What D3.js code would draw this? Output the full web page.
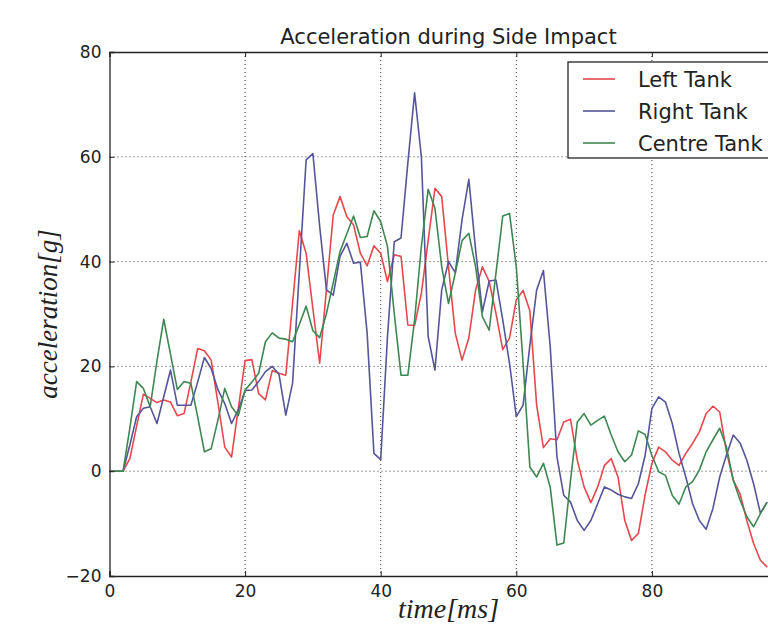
<!DOCTYPE html>
<html>
<head>
<meta charset="utf-8">
<script src="https://cdn.jsdelivr.net/npm/d3@7"></script>
<style>
  html, body { margin: 0; padding: 0; background: #fff; overflow: hidden; }
  svg { display: block; }
</style>
</head>
<body>
<div id="chart"></div>
<script>
// 측정 시간 (ms), 1 ms 간격
const timeMs = d3.range(0, 98);

// 각 탱크의 가속도 값 [g]
const leftTank = [
  0, 0, 0, 2.4, 8.6, 14.7, 13.9, 13.1, 13.6, 13.2,
  10.6, 11, 17, 23.4, 23, 21.2, 13, 4.6, 2.7, 12,
  21.1, 21.3, 14.8, 13.6, 19.2, 18.7, 18.3, 32, 45.9, 41.6,
  31, 20.6, 34.7, 48.9, 52.4, 48.6, 47, 41.6, 39.2, 43,
  41.6, 36.2, 41.3, 41, 27.9, 27.8, 34, 44, 54, 52.4,
  39, 26.3, 21.2, 25.4, 34.6, 39, 36.2, 30.1, 23.2, 25.4,
  32.7, 34.5, 30.6, 12.6, 4.5, 6.2, 6, 9.4, 9.9, 2.1,
  -3, -6, -3, 1.1, 2.4, -1.1, -9.4, -13.2, -11.9, -4.5,
  1.5, 4.6, 3.7, 2.1, 1.1, 3.4, 5.3, 7.5, 11, 12.4,
  11.3, 3.7, -1.7, -4.3, -9.4, -13.8, -17, -18.3
];
const rightTank = [
  0, 0, 0, 5, 10.4, 12, 12.3, 9.1, 14.2, 19.3,
  12.6, 12.6, 12.6, 17, 21.7, 19.6, 15.5, 12.9, 9.1, 11.7,
  15.4, 15.5, 17.1, 19, 20, 18.5, 10.7, 16.8, 38, 59.4,
  60.6, 46.7, 34.6, 33.6, 41, 43.5, 39.7, 39.9, 26.3, 3.4,
  2.2, 25.7, 43.8, 44.5, 58.8, 72.2, 60, 25.7, 19.3, 34.6,
  40, 37.9, 48, 55.7, 42.2, 30.4, 36.3, 36.5, 28.9, 20.6,
  10.4, 12.6, 24, 34.6, 38.3, 23.8, 2.7, -4.6, -5.9, -9.4,
  -11.3, -9.4, -6.2, -3, -3.6, -4.4, -4.9, -5.2, -2.4, 3,
  12, 14.2, 13.2, 9.1, 3.4, -1.1, -6.2, -9.4, -11.1, -7.1,
  -1.1, 3.1, 6.9, 5.4, 2.1, -2.4, -8, -5.9
];
const centreTank = [
  0, 0, 0, 8.2, 17.1, 15.8, 12.3, 21, 29, 22.3,
  15.6, 17.1, 16.8, 10.4, 3.7, 4.3, 9.8, 15.8, 12.3, 10.6,
  15.5, 17, 18.7, 24.7, 26.4, 25.4, 25.2, 24.7, 28, 31.5,
  26.8, 25.5, 30.1, 36, 41.9, 45.3, 48.7, 44.6, 44.8, 49.7,
  47.6, 42.9, 30.1, 18.3, 18.3, 28.9, 42.9, 53.8, 50.2, 39,
  32, 37.8, 44, 45.4, 39, 29.5, 26.9, 37.8, 48.7, 49.2,
  39, 20.6, 0.8, -1.1, 1.5, -3, -14.1, -13.7, -1.7, 9.4,
  11, 8.8, 9.7, 10.5, 6.9, 3.7, 1.8, 3.1, 7.7, 7,
  3, -0.1, -0.8, -4.6, -6.3, -3, -2, 0.2, 3.7, 6,
  8.2, 4.6, -1.7, -5.5, -8.7, -10.6, -8.1, -5.9
];

const seriesNames = ['Left Tank', 'Right Tank', 'Centre Tank'];
const seriesColors = ['#e5484d', '#55559a', '#3f8752'];
const xTicks = [0, 20, 40, 60, 80, 100];
const xTickLabels = [0, 20, 40, 60, 80]; // 100은 창 밖이라 라벨 없음
const yTicks = [-20, 0, 20, 40, 60, 80];

// 그림 크기와 여백
const width = 768, height = 625;
const margin = { top: 52, left: 109.5 };
const plotW = 678, plotH = 524; // 오른쪽은 창 밖으로 잘림

const svg = d3.select('#chart').append('svg')
  .attr('width', width)
  .attr('height', height)
  .style('font-family', '"DejaVu Sans", sans-serif');

const x = d3.scaleLinear().domain([0, 100]).range([margin.left, margin.left + plotW]);
const y = d3.scaleLinear().domain([-20, 80]).range([margin.top + plotH, margin.top]);

// 점선 격자
const grid = svg.append('g').attr('class', 'grid')
  .attr('stroke', '#000').attr('stroke-width', 1)
  .attr('stroke-dasharray', '1,3').attr('opacity', 0.75);
grid.selectAll('line.gx').data(xTicks.slice(1, -1)).enter().append('line')
  .attr('x1', d => x(d)).attr('x2', d => x(d))
  .attr('y1', y(80)).attr('y2', y(-20));
grid.selectAll('line.gy').data(yTicks.slice(1, -1)).enter().append('line')
  .attr('x1', x(0)).attr('x2', x(100))
  .attr('y1', d => y(d)).attr('y2', d => y(d));

// 데이터 선
svg.append('defs').append('clipPath').attr('id', 'plot-clip')
  .append('rect').attr('x', x(0)).attr('y', y(80))
  .attr('width', plotW).attr('height', plotH);

const line = d3.line()
  .x((d, i) => x(timeMs[i]))
  .y(d => y(d));

const allSeries = [leftTank, rightTank, centreTank];
svg.append('g').attr('clip-path', 'url(#plot-clip)')
  .selectAll('path.series')
  .data(allSeries)
  .enter()
  .append('path')
  .attr('class', 'series')
  .attr('d', line)
  .attr('fill', 'none')
  .attr('stroke', (d, i) => seriesColors[i])
  .attr('stroke-width', 1.6)
  .attr('stroke-linejoin', 'round');

// 축 (안쪽 눈금, 위/아래 모두)
const xAxisBottom = d3.axisBottom(x).tickValues(xTicks).tickSize(-5).tickPadding(9)
  .tickFormat(d => xTickLabels.includes(d) ? d : '');
const xAxisTop = d3.axisTop(x).tickValues(xTicks).tickSize(-5).tickFormat('');
const yAxisLeft = d3.axisLeft(y).tickValues(yTicks).tickSize(-5).tickPadding(8)
  .tickFormat(d => d < 0 ? '\u2212' + Math.abs(d) : d);

function styleAxis(g) {
  g.select('.domain').attr('stroke', '#222').attr('stroke-width', 1.3);
  g.selectAll('.tick line').attr('stroke', '#222');
  g.selectAll('.tick text').attr('fill', '#222').style('font-size', '17px')
    .style('font-family', '"DejaVu Sans", sans-serif');
}

svg.append('g').attr('transform', `translate(0,${y(-20)})`).call(xAxisBottom).call(styleAxis);
svg.append('g').attr('transform', `translate(0,${y(80)})`).call(xAxisTop).call(styleAxis);
svg.append('g').attr('transform', `translate(${x(0)},0)`).call(yAxisLeft).call(styleAxis);

// 제목과 축 이름
svg.append('text')
  .attr('x', x(50)).attr('y', 44)
  .attr('text-anchor', 'middle')
  .attr('fill', '#222')
  .style('font-size', '21px')
  .text('Acceleration during Side Impact');

svg.append('text')
  .attr('x', x(50)).attr('y', 618)
  .attr('text-anchor', 'middle')
  .attr('fill', '#222')
  .style('font-family', '"Liberation Serif", serif')
  .style('font-style', 'italic')
  .style('font-size', '28px')
  .text('time[ms]');

svg.append('text')
  .attr('transform', `translate(57,${y(30)}) rotate(-90)`)
  .attr('text-anchor', 'middle')
  .attr('fill', '#222')
  .style('font-family', '"Liberation Serif", serif')
  .style('font-style', 'italic')
  .style('font-size', '27px')
  .text('acceleration[g]');

// 범례
const legend = svg.append('g').attr('transform', 'translate(568,62)');
legend.append('rect')
  .attr('width', 240).attr('height', 96)
  .attr('fill', '#fff').attr('stroke', '#111').attr('stroke-width', 1.2);
seriesNames.forEach((name, i) => {
  const ly = 17 + i * 32;
  legend.append('line')
    .attr('x1', 15).attr('x2', 47).attr('y1', ly).attr('y2', ly)
    .attr('stroke', seriesColors[i]).attr('stroke-width', 1.6);
  legend.append('text')
    .attr('x', 70).attr('y', ly + 8)
    .attr('fill', '#222')
    .style('font-size', '21px')
    .text(name);
});
</script>
</body>
</html>
